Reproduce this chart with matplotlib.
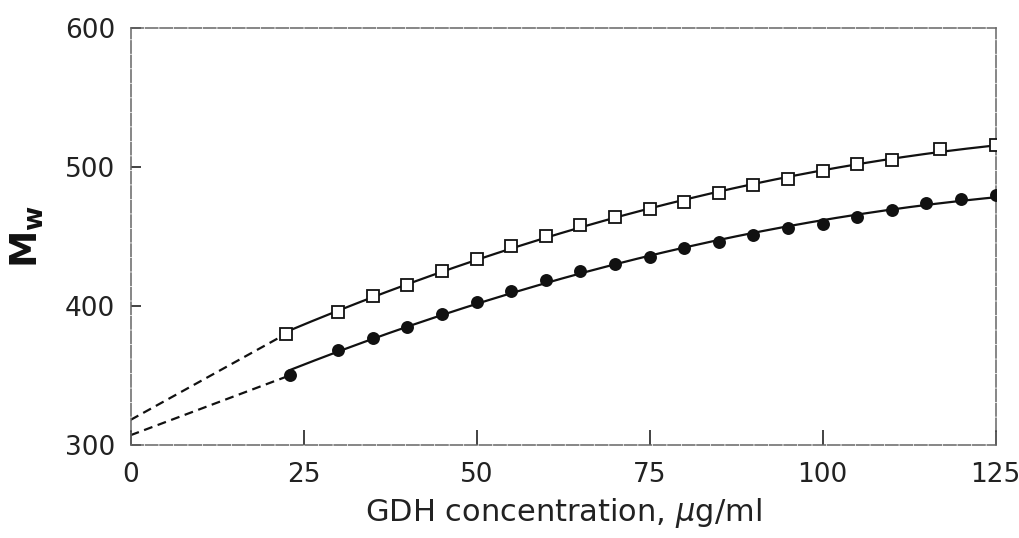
import numpy as np
import matplotlib
matplotlib.use("Agg")
import matplotlib.pyplot as plt

# =========================
# DADOS
# =========================
x_quad = [22.5, 30, 35, 40, 45, 50, 55, 60, 65, 70, 75, 80, 85, 90, 95, 100, 105, 110, 117, 125]
y_quad = [380, 396, 407, 415, 425, 434, 443, 450, 458, 464, 470, 475, 481, 487, 491, 497, 502, 505, 513, 516]

x_circ = [23, 30, 35, 40, 45, 50, 55, 60, 65, 70, 75, 80, 85, 90, 95, 100, 105, 110, 115, 120, 125]
y_circ = [350, 368, 377, 385, 394, 403, 411, 419, 425, 430, 435, 442, 446, 451, 456, 459, 464, 469, 474, 477, 480]

# extrapolação até concentração zero
y0_quad = 318
y0_circ = 307

x_ticks = [0, 25, 50, 75, 100, 125]
y_ticks = [300, 400, 500, 600]

# =========================
# FIGURA
# =========================
plt.rcParams["font.family"] = ["DejaVu Sans"]
fig = plt.figure(figsize=(10.2, 5.38), dpi=100)
ax = fig.add_axes([0.128, 0.173, 0.848, 0.775])

cor = "#111111"

for xs, ys, y0, mk, face in [
    (x_quad, y_quad, y0_quad, "s", "white"),
    (x_circ, y_circ, y0_circ, "o", cor),
]:
    coef = np.polyfit(xs, ys, 2)
    xf = np.linspace(xs[0], xs[-1], 200)
    ax.plot(xf, np.polyval(coef, xf), color=cor, lw=1.6, zorder=2)
    ax.plot([0, xs[0]], [y0, ys[0]], color=cor, lw=1.6, ls=(0, (4, 2.5)), zorder=2)
    ax.plot(xs, ys, ls="none", marker=mk, ms=8.5 if mk == "s" else 8,
            mfc=face, mec=cor, mew=1.3, zorder=3)

ax.set_xlim(0, 125)
ax.set_ylim(300, 600)
ax.set_xticks(x_ticks)
ax.set_yticks(y_ticks)
ax.tick_params(direction="in", width=1.2, colors="#222222", labelsize=19)
ax.tick_params(axis="x", length=11, pad=12)
ax.tick_params(axis="y", length=7, pad=11)

for lado in ["top", "right", "left", "bottom"]:
    ax.spines[lado].set_color("#666666")
    ax.spines[lado].set_linewidth(1.1)
    ax.spines[lado].set_linestyle((0, (8, 1.5)))

ax.set_xlabel(r"GDH concentration, $\mu$g/ml", fontsize=22, color="#222222", labelpad=6)
ax.set_ylabel(r"M$_\mathregular{w}$", fontsize=27, fontweight="bold", color=cor, labelpad=14)

fig.savefig("out.png", dpi=100)
